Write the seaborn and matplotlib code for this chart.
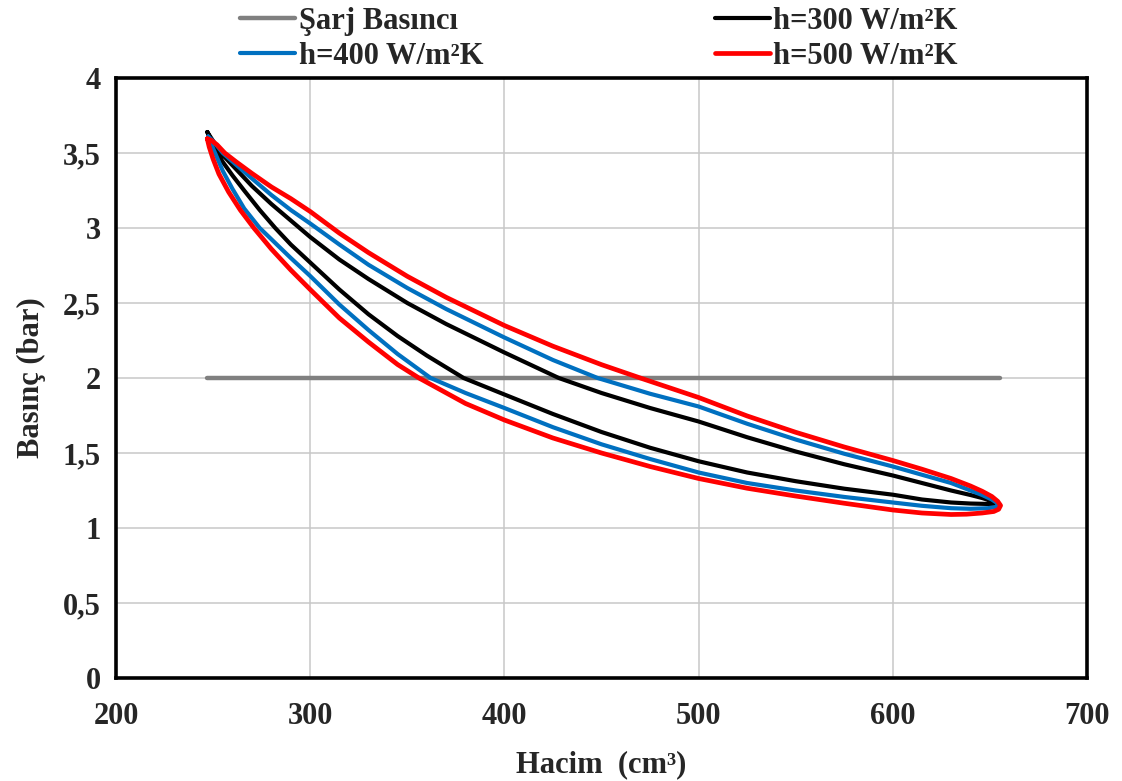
import numpy as np
import pandas as pd
import matplotlib
matplotlib.use('Agg')
import matplotlib.pyplot as plt
import seaborn as sns

# charge pressure line
charge_v = [247, 655]
charge_p = [2.0, 2.0]

# h = 300 W/m2K loop (upper branch left->right, lower branch right->left)
h300_upper_v = [247, 249, 251, 254, 262, 270, 280, 290, 300, 315, 330, 350, 370, 400, 428, 450,
                475, 500, 525, 550, 575, 600, 615, 630, 640, 646, 651, 653.5]
h300_upper_p = [3.64, 3.60, 3.56, 3.50, 3.39, 3.28, 3.16, 3.05, 2.94, 2.79, 2.66, 2.50, 2.36, 2.17, 2.00, 1.90,
                1.80, 1.71, 1.605, 1.51, 1.425, 1.35, 1.30, 1.25, 1.22, 1.20, 1.18, 1.16]
h300_lower_v = [650, 640, 630, 615, 600, 575, 550, 525, 500, 475, 450, 425, 400, 379, 360, 345,
                330, 315, 300, 290, 282, 274, 266, 260, 255, 252, 249, 247]
h300_lower_p = [1.16, 1.163, 1.17, 1.19, 1.222, 1.262, 1.312, 1.37, 1.445, 1.535, 1.64, 1.76, 1.89, 2.00, 2.15, 2.28,
                2.425, 2.59, 2.77, 2.89, 3.00, 3.12, 3.25, 3.35, 3.44, 3.50, 3.58, 3.64]

# h = 400 W/m2K loop
h400_upper_v = [247.5, 250, 255, 262, 270, 280, 290, 300, 315, 330, 350, 370, 400, 425, 448, 475,
                500, 525, 550, 575, 600, 615, 630, 640, 646, 651, 654.5]
h400_upper_p = [3.61, 3.58, 3.50, 3.42, 3.33, 3.22, 3.12, 3.03, 2.89, 2.755, 2.60, 2.46, 2.27, 2.12, 2.00, 1.895,
                1.81, 1.695, 1.59, 1.495, 1.41, 1.355, 1.30, 1.25, 1.22, 1.19, 1.16]
h400_lower_v = [653, 649, 640, 630, 615, 600, 575, 550, 525, 500, 475, 450, 425, 400, 380, 362,
                345, 330, 315, 300, 290, 282, 274, 266, 260, 255, 251, 249, 247.5]
h400_lower_p = [1.14, 1.132, 1.128, 1.132, 1.148, 1.17, 1.207, 1.25, 1.30, 1.37, 1.46, 1.558, 1.672, 1.80, 1.90, 2.00,
                2.16, 2.32, 2.49, 2.68, 2.80, 2.90, 3.00, 3.13, 3.26, 3.38, 3.50, 3.56, 3.61]

# h = 500 W/m2K loop
h500_upper_v = [247, 249, 252, 256, 262, 270, 280, 290, 300, 315, 330, 350, 370, 400, 425, 450,
                470, 500, 525, 550, 575, 600, 615, 630, 640, 646, 651, 654, 655.5]
h500_upper_p = [3.595, 3.585, 3.555, 3.50, 3.44, 3.364, 3.274, 3.196, 3.11, 2.966, 2.836, 2.678, 2.538, 2.35, 2.212, 2.089,
                2.00, 1.87, 1.747, 1.638, 1.54, 1.45, 1.392, 1.33, 1.28, 1.245, 1.21, 1.178, 1.15]
h500_lower_v = [654.5, 652, 646, 638, 630, 615, 600, 575, 550, 525, 500, 475, 450, 425, 400, 380,
                356, 345, 330, 315, 300, 290, 280, 271, 264, 258, 253, 250, 248, 247]
h500_lower_p = [1.125, 1.11, 1.10, 1.092, 1.09, 1.10, 1.12, 1.165, 1.213, 1.265, 1.33, 1.41, 1.50, 1.60, 1.72, 1.83,
                2.00, 2.09, 2.24, 2.40, 2.59, 2.72, 2.86, 3.00, 3.12, 3.24, 3.36, 3.46, 3.54, 3.595]

x_ticks = [200, 300, 400, 500, 600, 700]
y_ticks = [0, 0.5, 1, 1.5, 2, 2.5, 3, 3.5, 4]
y_tick_labels = ['0', '0,5', '1', '1,5', '2', '2,5', '3', '3,5', '4']

labels = ['Şarj Basıncı', 'h=300 W/m²K', 'h=400 W/m²K', 'h=500 W/m²K']
colors = ['#808080', '#000000', '#0070C0', '#FF0000']
widths = [3.2, 3.0, 3.0, 3.4]


def loop(upper_v, upper_p, lower_v, lower_p):
    return pd.DataFrame({'V': upper_v + lower_v, 'P': upper_p + lower_p})


def main():
    sns.set_theme(style='whitegrid')
    plt.rcParams['font.family'] = ['Liberation Serif', 'DejaVu Serif']
    plt.rcParams['font.weight'] = 'bold'

    fig = plt.figure(figsize=(11.22, 7.81), dpi=100)
    ax = fig.add_axes([0.1034, 0.1319, 0.8654, 0.7682])

    data = [
        pd.DataFrame({'V': charge_v, 'P': charge_p}),
        loop(h300_upper_v, h300_upper_p, h300_lower_v, h300_lower_p),
        loop(h400_upper_v, h400_upper_p, h400_lower_v, h400_lower_p),
        loop(h500_upper_v, h500_upper_p, h500_lower_v, h500_lower_p),
    ]
    handles = []
    for df, lab, col, lw in zip(data, labels, colors, widths):
        sns.lineplot(data=df, x='V', y='P', sort=False, estimator=None,
                     color=col, linewidth=lw, label=lab, ax=ax, legend=False,
                     solid_joinstyle='round', solid_capstyle='round')
        handles.append(ax.lines[-1])

    ax.set_xlim(200, 700)
    ax.set_ylim(0, 4)
    ax.set_xticks(x_ticks)
    ax.set_yticks(y_ticks)
    ax.set_yticklabels(y_tick_labels)
    ax.tick_params(axis='both', labelsize=22, length=5, width=1.2,
                   color='#999999', direction='out')
    ax.tick_params(axis='x', pad=12)
    ax.tick_params(axis='y', pad=6)
    for t in ax.get_xticklabels() + ax.get_yticklabels():
        t.set_fontweight('bold')
    ax.grid(True, color='#c8c8c8', linewidth=1.1)
    ax.set_facecolor('white')
    for s in ax.spines.values():
        s.set_color('black')
        s.set_linewidth(2.6)
        s.set_visible(True)

    ax.set_xlabel('Hacim  (cm³)', fontsize=22, fontweight='bold', labelpad=14)
    ax.set_ylabel('Basınç (bar)', fontsize=22, fontweight='bold', labelpad=12)

    # legend: row 1 = charge, 300 ; row 2 = 400, 500
    order = [0, 2, 1, 3]
    fig.legend([handles[i] for i in order], [labels[i] for i in order],
               ncol=2, loc='upper left', bbox_to_anchor=(0.198, 1.015),
               frameon=False, prop={'size': 22, 'weight': 'bold'},
               handlelength=1.8, handletextpad=0.1, columnspacing=7.6,
               borderpad=0.1, labelspacing=0.2)

    fig.savefig('out.png', dpi=100)


if __name__ == '__main__':
    main()
